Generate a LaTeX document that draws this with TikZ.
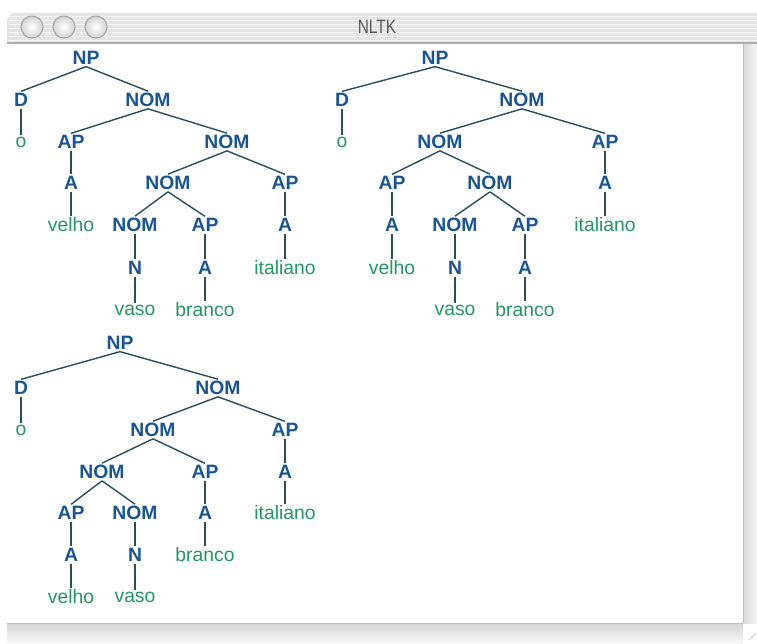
\documentclass[tikz,border=0pt]{standalone}
\usepackage{fontspec}
\usepackage{tikz}
\usetikzlibrary{shapes,positioning,calc,backgrounds}
\newfontfamily\nltkfont{Liberation Sans}
\newfontfamily\titlefont[FakeStretch=0.8]{Liberation Sans}
\definecolor{nltkblue}{RGB}{25,85,150}
\definecolor{nltkgreen}{RGB}{35,150,100}
\definecolor{nltkline}{RGB}{40,80,90}
\definecolor{chrome}{RGB}{228,228,228}

\begin{document}
\begin{tikzpicture}[
    x=0.03cm, y=-0.03cm,
    nonterm/.style={inner sep=1.5pt, text=nltkblue, font=\nltkfont\fontsize{16.5}{19}\selectfont\bfseries},
    word/.style={inner sep=1.5pt, text=nltkgreen, font=\nltkfont\fontsize{16.5}{19}\selectfont},
    branch/.style={draw=nltkline, line width=1.2pt},
    button/.style={circle, minimum size=22*0.03cm, draw=gray!75, line width=0.8pt, inner color=white, outer color=gray!35},
    title/.style={text=gray!70!black, font=\titlefont\fontsize{16.5}{19}\selectfont}
]
\useasboundingbox (0,0) rectangle (757,643);
\fill[white] (0,0) rectangle (757,643);

% Window chrome
\fill[chrome] (7,43) -- (7,18) to[out=-90, in=180] (13,13) -- (757,13) -- (757,43) -- cycle;
\foreach \yy in {16,20,...,40}
  \draw[white, opacity=0.6, line width=0.8pt] (9,\yy) -- (757,\yy);
\draw[gray!65, line width=1.8pt] (7,43) -- (757,43);
\node[button] (close) at (32,27) {};
\node[button] (mini) at (64,27) {};
\node[button] (zoom) at (96,27) {};
\node[title] (wintitle) at (377,27) {NLTK};
\shade[left color=gray!30, right color=gray!8] (743,44) rectangle (757,623);
\draw[gray!50] (743,44) -- (743,623);
\shade[top color=gray!35, bottom color=gray!5] (7,623) rectangle (743,643);
\draw[gray!50] (7,623) -- (743,623);
\draw[gray!60] (749,640) -- (755,634);

% First tree
\node[nonterm] (t1np) at (86,58) {NP};
\node[nonterm] (t1d) at (21,100) {D};
\node[word] (t1o) at (21,142) {o};
\node[nonterm] (t1nom1) at (148,100) {NOM};
\node[nonterm] (t1ap1) at (71,142) {AP};
\node[nonterm] (t1a1) at (71,183) {A};
\node[word] (t1velho) at (71,225) {velho};
\node[nonterm] (t1nom2) at (227,142) {NOM};
\node[nonterm] (t1nom3) at (168,183) {NOM};
\node[nonterm] (t1ap2) at (285,183) {AP};
\node[nonterm] (t1a2) at (285,225) {A};
\node[word] (t1it) at (285,268) {italiano};
\node[nonterm] (t1nom4) at (135,225) {NOM};
\node[nonterm] (t1ap3) at (205,225) {AP};
\node[nonterm] (t1n) at (135,268) {N};
\node[nonterm] (t1a3) at (205,268) {A};
\node[word] (t1vaso) at (135,310) {vaso};
\node[word] (t1branco) at (205,310) {branco};

\draw[branch] (t1np.south) -- (t1d.north);
\draw[branch] (t1np.south) -- (t1nom1.north);
\draw[branch] (t1d.south) -- (t1o.north);
\draw[branch] (t1nom1.south) -- (t1ap1.north);
\draw[branch] (t1nom1.south) -- (t1nom2.north);
\draw[branch] (t1ap1.south) -- (t1a1.north);
\draw[branch] (t1a1.south) -- (t1velho.north);
\draw[branch] (t1nom2.south) -- (t1nom3.north);
\draw[branch] (t1nom2.south) -- (t1ap2.north);
\draw[branch] (t1ap2.south) -- (t1a2.north);
\draw[branch] (t1a2.south) -- (t1it.north);
\draw[branch] (t1nom3.south) -- (t1nom4.north);
\draw[branch] (t1nom3.south) -- (t1ap3.north);
\draw[branch] (t1nom4.south) -- (t1n.north);
\draw[branch] (t1n.south) -- (t1vaso.north);
\draw[branch] (t1ap3.south) -- (t1a3.north);
\draw[branch] (t1a3.south) -- (t1branco.north);

% Second tree
\node[nonterm] (t2np) at (435,58) {NP};
\node[nonterm] (t2d) at (342,100) {D};
\node[word] (t2o) at (342,142) {o};
\node[nonterm] (t2nom1) at (522,100) {NOM};
\node[nonterm] (t2nom2) at (440,142) {NOM};
\node[nonterm] (t2ap1) at (605,142) {AP};
\node[nonterm] (t2ap2) at (392,183) {AP};
\node[nonterm] (t2nom3) at (490,183) {NOM};
\node[nonterm] (t2a1) at (605,183) {A};
\node[nonterm] (t2a2) at (392,225) {A};
\node[nonterm] (t2nom4) at (455,225) {NOM};
\node[nonterm] (t2ap3) at (525,225) {AP};
\node[word] (t2it) at (605,225) {italiano};
\node[word] (t2velho) at (392,268) {velho};
\node[nonterm] (t2n) at (455,268) {N};
\node[nonterm] (t2a3) at (525,268) {A};
\node[word] (t2vaso) at (455,310) {vaso};
\node[word] (t2branco) at (525,310) {branco};

\draw[branch] (t2np.south) -- (t2d.north);
\draw[branch] (t2np.south) -- (t2nom1.north);
\draw[branch] (t2d.south) -- (t2o.north);
\draw[branch] (t2nom1.south) -- (t2nom2.north);
\draw[branch] (t2nom1.south) -- (t2ap1.north);
\draw[branch] (t2ap1.south) -- (t2a1.north);
\draw[branch] (t2a1.south) -- (t2it.north);
\draw[branch] (t2nom2.south) -- (t2ap2.north);
\draw[branch] (t2nom2.south) -- (t2nom3.north);
\draw[branch] (t2ap2.south) -- (t2a2.north);
\draw[branch] (t2a2.south) -- (t2velho.north);
\draw[branch] (t2nom3.south) -- (t2nom4.north);
\draw[branch] (t2nom3.south) -- (t2ap3.north);
\draw[branch] (t2nom4.south) -- (t2n.north);
\draw[branch] (t2n.south) -- (t2vaso.north);
\draw[branch] (t2ap3.south) -- (t2a3.north);
\draw[branch] (t2a3.south) -- (t2branco.north);

% Third tree
\node[nonterm] (t3np) at (120,343) {NP};
\node[nonterm] (t3d) at (21,388) {D};
\node[word] (t3o) at (21,430) {o};
\node[nonterm] (t3nom1) at (218,388) {NOM};
\node[nonterm] (t3nom2) at (153,430) {NOM};
\node[nonterm] (t3ap1) at (285,430) {AP};
\node[nonterm] (t3nom3) at (102,472) {NOM};
\node[nonterm] (t3ap2) at (205,472) {AP};
\node[nonterm] (t3a1) at (285,472) {A};
\node[nonterm] (t3ap3) at (71,513) {AP};
\node[nonterm] (t3nom4) at (135,513) {NOM};
\node[nonterm] (t3a2) at (205,513) {A};
\node[word] (t3it) at (285,513) {italiano};
\node[nonterm] (t3a3) at (71,555) {A};
\node[nonterm] (t3n) at (135,555) {N};
\node[word] (t3branco) at (205,555) {branco};
\node[word] (t3velho) at (71,597) {velho};
\node[word] (t3vaso) at (135,597) {vaso};

\draw[branch] (t3np.south) -- (t3d.north);
\draw[branch] (t3np.south) -- (t3nom1.north);
\draw[branch] (t3d.south) -- (t3o.north);
\draw[branch] (t3nom1.south) -- (t3nom2.north);
\draw[branch] (t3nom1.south) -- (t3ap1.north);
\draw[branch] (t3ap1.south) -- (t3a1.north);
\draw[branch] (t3a1.south) -- (t3it.north);
\draw[branch] (t3nom2.south) -- (t3nom3.north);
\draw[branch] (t3nom2.south) -- (t3ap2.north);
\draw[branch] (t3ap2.south) -- (t3a2.north);
\draw[branch] (t3a2.south) -- (t3branco.north);
\draw[branch] (t3nom3.south) -- (t3ap3.north);
\draw[branch] (t3nom3.south) -- (t3nom4.north);
\draw[branch] (t3ap3.south) -- (t3a3.north);
\draw[branch] (t3a3.south) -- (t3velho.north);
\draw[branch] (t3nom4.south) -- (t3n.north);
\draw[branch] (t3n.south) -- (t3vaso.north);

\end{tikzpicture}
\end{document}
